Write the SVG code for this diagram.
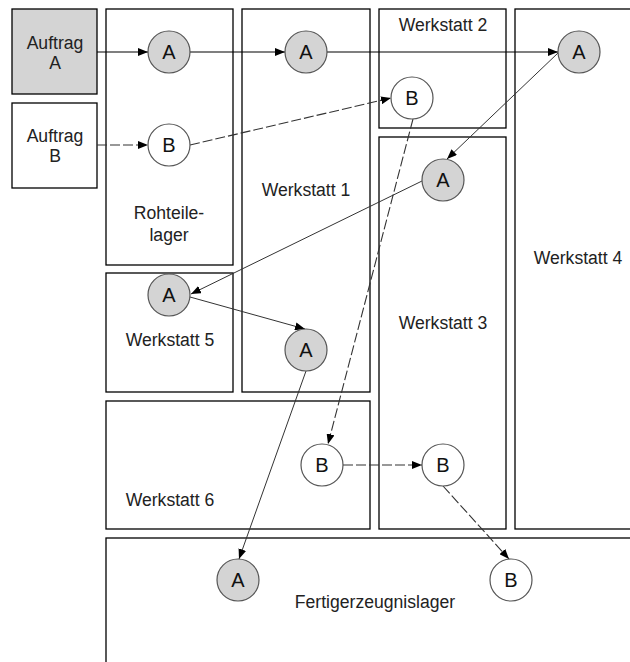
<svg xmlns="http://www.w3.org/2000/svg" width="630" height="662" viewBox="0 0 630 662">
  <style>
    .box { fill: #ffffff; stroke: #000000; stroke-width: 1.3; }
    .box.order-a { fill: #d4d4d4; }
    .lbl { font-family: "Liberation Sans", Arial, sans-serif; font-size: 17.6px; fill: #222222; text-anchor: middle; }
    .node circle { stroke: #555555; stroke-width: 1.2; }
    .node.a circle { fill: #d4d4d4; }
    .node.b circle { fill: #ffffff; }
    .node text { font-family: "Liberation Sans", Arial, sans-serif; font-size: 20px; fill: #111111; text-anchor: middle; }
    .flow-a { fill: none; stroke: #000000; stroke-width: 1.2; marker-end: url(#arrow); }
    .flow-a.diag { stroke: #333333; stroke-width: 1; }
    .flow-b { fill: none; stroke: #333333; stroke-width: 1.1; stroke-dasharray: 10 3; marker-end: url(#arrow); }
  </style>
  <defs>
    <marker id="arrow" markerUnits="userSpaceOnUse" markerWidth="10" markerHeight="8" refX="10" refY="4" orient="auto">
      <path d="M0,0 L10,4 L0,8 z" fill="#000000"/>
    </marker>
  </defs>

  <rect width="630" height="662" fill="#ffffff"/>

  <!-- orders -->
  <g id="auftrag-a">
    <rect class="box order-a" x="12" y="9" width="85" height="85"/>
    <text class="lbl" x="55" y="49">Auftrag</text>
    <text class="lbl" x="55" y="69">A</text>
  </g>
  <g id="auftrag-b">
    <rect class="box" x="12" y="103" width="85" height="85"/>
    <text class="lbl" x="55" y="142">Auftrag</text>
    <text class="lbl" x="55" y="162">B</text>
  </g>

  <!-- areas -->
  <g id="rohteilelager">
    <rect class="box" x="106" y="9" width="127" height="256"/>
    <text class="lbl" x="169" y="219">Rohteile-</text>
    <text class="lbl" x="169" y="241">lager</text>
  </g>
  <g id="werkstatt-1">
    <rect class="box" x="242" y="9" width="128" height="383"/>
    <text class="lbl" x="306" y="196">Werkstatt 1</text>
  </g>
  <g id="werkstatt-2">
    <rect class="box" x="379" y="9" width="127" height="119"/>
    <text class="lbl" x="443" y="31">Werkstatt 2</text>
  </g>
  <g id="werkstatt-3">
    <rect class="box" x="379" y="137" width="127" height="392"/>
    <text class="lbl" x="443" y="329">Werkstatt 3</text>
  </g>
  <g id="werkstatt-4">
    <rect class="box" x="515" y="9" width="130" height="520"/>
    <text class="lbl" x="578" y="264">Werkstatt 4</text>
  </g>
  <g id="werkstatt-5">
    <rect class="box" x="106" y="273" width="127" height="119"/>
    <text class="lbl" x="170" y="346">Werkstatt 5</text>
  </g>
  <g id="werkstatt-6">
    <rect class="box" x="106" y="401" width="264" height="128"/>
    <text class="lbl" x="170" y="506">Werkstatt 6</text>
  </g>
  <g id="fertigerzeugnislager">
    <rect class="box" x="106" y="538" width="540" height="140"/>
    <text class="lbl" x="375" y="608">Fertigerzeugnislager</text>
  </g>

  <!-- routing connectors -->
  <g id="connectors">
    <path class="flow-a" d="M97,52 H148"/>
    <path class="flow-a" d="M190,52 H285"/>
    <path class="flow-a" d="M327,52 H558"/>
    <path class="flow-a diag" d="M558,53 L447,159"/>
    <path class="flow-a diag" d="M422,181 L191,294"/>
    <path class="flow-a diag" d="M190,297 L305,329"/>
    <path class="flow-a diag" d="M306,371 L239,559"/>

    <path class="flow-b" d="M97,145 H148"/>
    <path class="flow-b" d="M190,145 L391,98"/>
    <path class="flow-b" d="M413,119 L328,444"/>
    <path class="flow-b" d="M343,465 H422"/>
    <path class="flow-b" d="M443,486 L509,559"/>
  </g>

  <!-- route stations of order A -->
  <g id="a1" class="node a"><circle cx="169" cy="52" r="21"/><text x="169" y="59">A</text></g>
  <g id="a2" class="node a"><circle cx="306" cy="52" r="21"/><text x="306" y="59">A</text></g>
  <g id="a3" class="node a"><circle cx="579" cy="52" r="21"/><text x="579" y="59">A</text></g>
  <g id="a4" class="node a"><circle cx="443" cy="180" r="21"/><text x="443" y="187">A</text></g>
  <g id="a5" class="node a"><circle cx="169" cy="295" r="21"/><text x="169" y="302">A</text></g>
  <g id="a6" class="node a"><circle cx="306" cy="350" r="21"/><text x="306" y="357">A</text></g>
  <g id="a7" class="node a"><circle cx="238" cy="580" r="21"/><text x="238" y="587">A</text></g>

  <!-- route stations of order B -->
  <g id="b1" class="node b"><circle cx="169" cy="145" r="21"/><text x="169" y="152">B</text></g>
  <g id="b2" class="node b"><circle cx="412" cy="98" r="21"/><text x="412" y="105">B</text></g>
  <g id="b3" class="node b"><circle cx="322" cy="465" r="21"/><text x="322" y="472">B</text></g>
  <g id="b4" class="node b"><circle cx="443" cy="465" r="21"/><text x="443" y="472">B</text></g>
  <g id="b5" class="node b"><circle cx="511" cy="580" r="21"/><text x="511" y="587">B</text></g>
</svg>
